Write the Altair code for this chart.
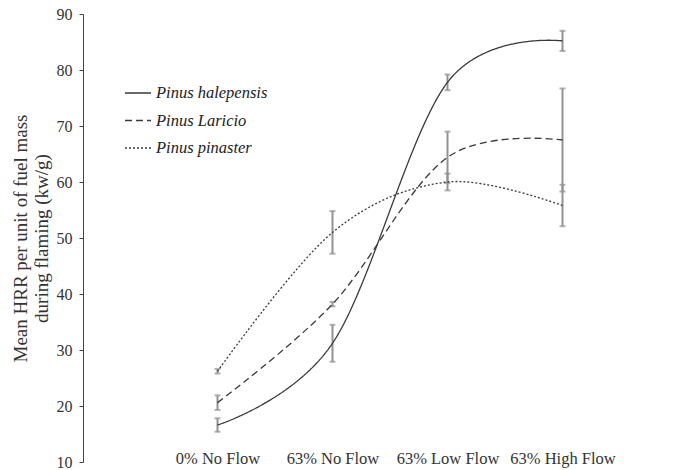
import altair as alt
import pandas as pd

categories = ["0% No Flow", "63% No Flow", "63% Low Flow", "63% High Flow"]
species = ["Pinus halepensis", "Pinus Laricio", "Pinus pinaster"]

hal_mean = [16.6, 31.2, 77.8, 85.2]
hal_err = [1.2, 3.3, 1.4, 1.8]
lar_mean = [20.6, 38.2, 64.4, 67.5]
lar_err = [1.3, 0.4, 4.6, 9.2]
pin_mean = [26.2, 51.0, 60.0, 55.8]
pin_err = [0.4, 3.8, 1.5, 3.7]

y_ticks = [10, 20, 30, 40, 50, 60, 70, 80, 90]

rows = []
for sp, means, errs in zip(species, [hal_mean, lar_mean, pin_mean], [hal_err, lar_err, pin_err]):
    for i, (c, m, e) in enumerate(zip(categories, means, errs)):
        rows.append({"species": sp, "cond": c, "order": i, "mean": m, "lo": m - e, "hi": m + e})
df = pd.DataFrame(rows)

FONT = "Liberation Serif"

x_enc = alt.X(
    "cond:O",
    sort=categories,
    scale=alt.Scale(type="point", range=[77, 537]),
    axis=alt.Axis(
        title=None, domain=False, ticks=False, tickSize=0, labelAngle=0,
        labelFont=FONT, labelFontSize=16.5, labelColor="#333333",
        labelPadding=-12, labelBaseline="top",
    ),
)
y_scale = alt.Scale(domain=[10, 90], nice=False, zero=False)

base = alt.Chart(df)

err_rule = base.mark_rule(color="#929292", strokeWidth=2).encode(
    x=x_enc,
    y=alt.Y("lo:Q", scale=y_scale),
    y2="hi:Q",
)
cap_lo = base.mark_tick(color="#929292", thickness=2, size=6).encode(
    x=x_enc, y=alt.Y("lo:Q", scale=y_scale)
)
cap_hi = base.mark_tick(color="#929292", thickness=2, size=6).encode(
    x=x_enc, y=alt.Y("hi:Q", scale=y_scale)
)

lines = base.mark_line(interpolate="cardinal", color="#3a3a3a", strokeWidth=1.3).encode(
    x=x_enc,
    y=alt.Y(
        "mean:Q",
        scale=y_scale,
        axis=alt.Axis(
            values=y_ticks, grid=False, title=["Mean HRR per unit of fuel mass", "during flaming (kw/g)"],
            titleFont=FONT, titleFontSize=19, titleFontWeight="normal", titleColor="#333333",
            titleLineHeight=21, titlePadding=5,
            labelFont=FONT, labelFontSize=16, labelColor="#333333", labelPadding=7,
            domainColor="#444444", tickColor="#444444", tickSize=4,
        ),
    ),
    strokeDash=alt.StrokeDash(
        "species:N",
        sort=species,
        scale=alt.Scale(domain=species, range=[[1, 0], [7, 4], [2, 2]]),
        legend=alt.Legend(
            title=None, orient="none", legendX=41, legendY=65,
            symbolType="stroke", symbolSize=676, symbolStrokeWidth=1.3,
            symbolStrokeColor="#3a3a3a",
            labelFont=FONT, labelFontSize=16.5, labelFontStyle="italic", labelColor="#222222",
            labelOffset=4, rowPadding=4.5,
        ),
    ),
    order="order:Q",
    detail="species:N",
)

chart = (
    alt.layer(err_rule, cap_lo, cap_hi, lines)
    .properties(
        width=595, height=448,
        autosize=alt.AutoSizeParams(type="none"),
        padding={"left": 83, "top": 14, "right": 0, "bottom": 8},
        background="white",
    )
    .configure(font=FONT)
    .configure_view(stroke=None)
)

chart.save("out.html", embed_options={"renderer": "svg", "actions": False})
